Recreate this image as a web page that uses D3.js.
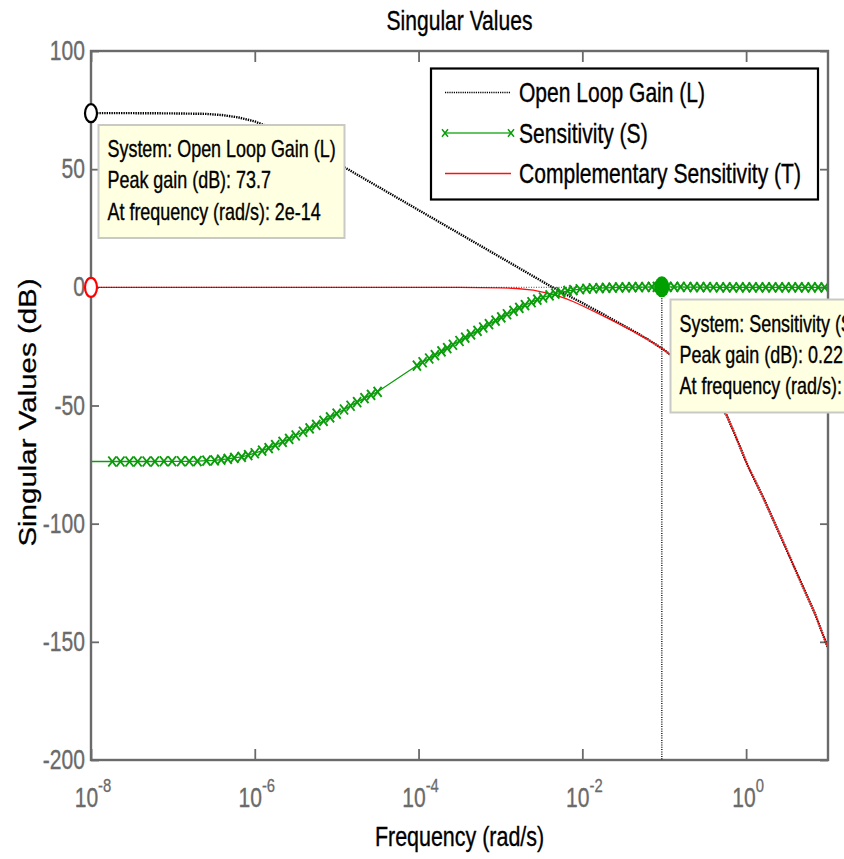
<!DOCTYPE html>
<html>
<head>
<meta charset="utf-8">
<script src="https://cdn.jsdelivr.net/npm/d3@7"></script>
<style>
  html, body { margin: 0; padding: 0; background: #fff; overflow: hidden; }
  svg { display: block; }
  text { font-family: "Liberation Sans", Arial, Helvetica, sans-serif; }
</style>
</head>
<body>
<svg id="chart" width="844" height="859"></svg>
<script>
// ---- Sensitivity (S): sample frequencies as log10(rad/s) and gains in dB ----
const sensExp = [
  -13.70,
  -7.74, -7.64, -7.53, -7.43, -7.32, -7.22, -7.11, -7.01, -6.90, -6.80, -6.70, -6.59, -6.49,
  -6.41, -6.33, -6.25, -6.16, -6.08, -6.00, -5.91, -5.83, -5.75, -5.66, -5.58, -5.50,
  -5.41, -5.33, -5.25, -5.16, -5.08, -5.00, -4.91, -4.83, -4.75, -4.66, -4.58, -4.50,
  -4.02, -3.95, -3.87, -3.80, -3.72, -3.65, -3.58, -3.50, -3.43, -3.36, -3.28, -3.21,
  -3.14, -3.06, -2.99, -2.92, -2.84, -2.77, -2.70, -2.62, -2.55, -2.48, -2.40, -2.33,
  -2.26, -2.18, -2.11,
  -2.03, -1.95, -1.87, -1.79, -1.71, -1.63, -1.55, -1.47, -1.39, -1.31, -1.23, -1.15,
  -1.09, -1.03, -0.96, -0.88, -0.80, -0.72, -0.64, -0.56, -0.48, -0.40, -0.32, -0.24,
  -0.16, -0.08, 0.00, 0.08, 0.16, 0.24, 0.32, 0.40, 0.48, 0.56, 0.64, 0.72, 0.80, 0.88,
  0.96, 1.04
];
const sensDb = [
  -73.7,
  -73.7, -73.7, -73.7, -73.7, -73.7, -73.7, -73.6, -73.6, -73.6, -73.6, -73.5, -73.3, -73.2,
  -72.9, -72.6, -72.2, -71.7, -71.0, -70.2, -69.1, -68.0, -66.8, -65.4, -64.1, -62.7,
  -61.1, -59.7, -58.2, -56.5, -55.0, -53.4, -51.7, -50.1, -48.6, -46.9, -45.5, -44.2,
  -33.1, -31.7, -30.1, -28.7, -27.1, -25.7, -24.3, -22.7, -21.3, -19.9, -18.4, -17.0,
  -15.6, -14.1, -12.7, -11.4, -10.0, -8.7, -7.5, -6.3, -5.2, -4.3, -3.4, -2.7,
  -2.1, -1.5, -1.2,
  -0.8, -0.6, -0.4, -0.3, -0.2, -0.1, -0.05, 0.0, 0.05, 0.09, 0.13, 0.17,
  0.20, 0.221, 0.21, 0.19, 0.16, 0.13, 0.10, 0.07, 0.05, 0.03, 0.02, 0.01,
  0.0, 0.0, 0.0, 0.0, 0.0, 0.0, 0.0, 0.0, 0.0, 0.0, 0.0, 0.0, 0.0, 0.0,
  0.0, 0.0
];

// ---- Open loop gain (L) and complementary sensitivity (T) ----
const loopExp = [
  -13.70, -8.00, -7.50, -7.00, -6.60, -6.40, -6.20, -6.00, -5.80, -5.60, -5.40, -5.20,
  -5.00, -4.50, -4.00, -3.50, -3.00, -2.80, -2.60, -2.50, -2.40, -2.30, -2.20, -2.10,
  -2.00, -1.90, -1.80, -1.60, -1.40, -1.20, -1.00, -0.80, -0.60, -0.40, -0.24, -0.14,
  0.02, 0.21, 0.43, 0.64, 0.84, 1.00, 1.04
];
const loopDb = [
  73.7, 73.7, 73.7, 73.6, 73.4, 72.9, 71.9, 70.2, 67.5, 64.2, 60.5, 56.6,
  52.7, 42.7, 32.7, 22.7, 12.7, 8.7, 4.7, 2.7, 0.7, -1.1, -3.0, -4.8,
  -6.6, -8.5, -10.3, -14.2, -18.0, -22.0, -26.5, -32.0, -39.0, -47.0, -54.0, -62.0,
  -75.5, -89.0, -106.0, -122.5, -138.0, -152.6, -156.0
];
const compDb = [
  0, 0, 0, 0, 0, 0, 0, 0, 0, 0, 0, 0,
  0, 0, 0, 0, -0.2, -0.5, -1.2, -1.9, -2.7, -3.6, -4.8, -6.2,
  -7.8, -9.5, -11.1, -14.6, -18.2, -22.1, -26.5, -32.0, -39.0, -47.0, -54.0, -62.0,
  -75.5, -89.0, -106.0, -122.5, -138.0, -152.6, -156.0
];

// ---- Peak data tips: L, S, T ----
const peakSystem = ["Open Loop Gain (L)", "Sensitivity (S)", "Complementary Sensitivity (T)"];
const peakGainDb = [73.7, 0.221, 0];
const peakFreq = [2e-14, 0.0935, 2e-14];

// ---- Axis ticks and labels ----
const yTicks = [100, 50, 0, -50, -100, -150, -200];
const xTickExp = [-8, -6, -4, -2, 0];
const legendNames = ["Open Loop Gain (L)", "Sensitivity (S)", "Complementary Sensitivity (T)"];

// ---------------------------------------------------------------------------
const SX = 0.78;                       // horizontal squeeze applied to every text
const AXIS = "#6a6a6a";
const GREEN = "#0a9c0a";
const RED = "#ff1010";
const box = { left: 91, right: 828, top: 51, bottom: 760 };

const svg = d3.select("#chart");
const x = d3.scaleLog().domain([1e-8, 10]).range([box.left, box.right]);
const y = d3.scaleLinear().domain([-200, 100]).range([box.bottom, box.top]);

function squeezed(parent, str, px, py, size, anchor, fill) {
  const c = fill || "#000";
  return parent.append("text")
    .attr("transform", `translate(${px},${py}) scale(${SX},1)`)
    .attr("font-size", size)
    .attr("text-anchor", anchor || "start")
    .attr("fill", c).attr("stroke", c).attr("stroke-width", 0.35)
    .text(str);
}

const toPts = (exps, vals) => exps.map((e, i) => ({ f: Math.pow(10, e), v: vals[i] }));
const sensPts = toPts(sensExp, sensDb);
const loopPts = toPts(loopExp, loopDb);
const compPts = toPts(loopExp, compDb);

svg.append("defs").append("clipPath").attr("id", "plotClip")
  .append("rect")
  .attr("x", box.left).attr("y", box.top)
  .attr("width", box.right - box.left).attr("height", box.bottom - box.top);

// ---- Tick marks on all four sides (pointing inwards) ----
function tickAxis(axis, tx, ty) {
  const g = svg.append("g").attr("transform", `translate(${tx},${ty})`).call(axis);
  g.select(".domain").remove();
  g.selectAll(".tick line").attr("stroke", AXIS).attr("stroke-width", 1.8);
  g.selectAll(".tick text").remove();
  return g;
}
const xTickVals = xTickExp.map(e => Math.pow(10, e));
tickAxis(d3.axisLeft(y).tickValues(yTicks).tickSizeInner(-8).tickSizeOuter(0), box.left, 0);
tickAxis(d3.axisRight(y).tickValues(yTicks).tickSizeInner(-8).tickSizeOuter(0), box.right, 0);
tickAxis(d3.axisBottom(x).tickValues(xTickVals).tickSizeInner(-11).tickSizeOuter(0), 0, box.bottom);
tickAxis(d3.axisTop(x).tickValues(xTickVals).tickSizeInner(-11).tickSizeOuter(0), 0, box.top);

// ---- Curves ----
const plot = svg.append("g").attr("clip-path", "url(#plotClip)");
const line = d3.line().x(d => x(d.f)).y(d => y(d.v));

plot.append("path").datum(loopPts)
  .attr("d", line).attr("fill", "none")
  .attr("stroke", "#000").attr("stroke-width", 2.4).attr("stroke-dasharray", "1.4,1");

plot.append("path").datum(compPts)
  .attr("d", line).attr("fill", "none")
  .attr("stroke", RED).attr("stroke-width", 1.3);

// 0 dB reference
plot.append("line")
  .attr("x1", box.left).attr("x2", box.right)
  .attr("y1", y(0)).attr("y2", y(0))
  .attr("stroke", "#111").attr("stroke-width", 1.2).attr("stroke-dasharray", "1,1.5").attr("opacity", 0.6);

plot.append("path").datum(sensPts)
  .attr("d", line).attr("fill", "none")
  .attr("stroke", GREEN).attr("stroke-width", 1.3);

const xMark = "M-4,-5L4,5M-4,5L4,-5";
plot.append("g").selectAll("path").data(sensPts).join("path")
  .attr("transform", d => `translate(${x(d.f)},${y(d.v)})`)
  .attr("d", xMark).attr("fill", "none")
  .attr("stroke", GREEN).attr("stroke-width", 1.9);

// ---- Frame ----
svg.append("rect")
  .attr("x", box.left).attr("y", box.top)
  .attr("width", box.right - box.left).attr("height", box.bottom - box.top)
  .attr("fill", "none").attr("stroke", AXIS).attr("stroke-width", 2.4);

// ---- Tick labels ----
yTicks.forEach(v => {
  squeezed(svg, String(v), box.left - 6, y(v) + 9, 27, "end", AXIS);
});
xTickExp.forEach(e => {
  const g = svg.append("g");
  const base = g.append("text").attr("font-size", 27).attr("fill", AXIS)
    .attr("stroke", AXIS).attr("stroke-width", 0.35).text("10");
  const sup = g.append("text").attr("font-size", 19).attr("fill", AXIS)
    .attr("stroke", AXIS).attr("stroke-width", 0.3).text(String(e));
  const wb = base.node().getComputedTextLength();
  const ws = sup.node().getComputedTextLength();
  sup.attr("x", wb).attr("y", -15);
  const total = (wb + ws) * SX;
  g.attr("transform", `translate(${x(Math.pow(10, e)) - total / 2 + 2},${box.bottom + 47}) scale(${SX},1)`);
});

// ---- Titles ----
const midX = (box.left + box.right) / 2;
squeezed(svg, "Singular Values", midX, 30, 27, "middle", "#000");
squeezed(svg, "Frequency (rad/s)", midX, 846, 27.5, "middle", "#000");
svg.append("text")
  .attr("transform", `translate(36,${(box.top + box.bottom) / 2 + 7}) scale(${SX},1) rotate(-90)`)
  .attr("font-size", 29.5).attr("text-anchor", "middle").attr("fill", "#000")
  .attr("stroke", "#000").attr("stroke-width", 0.35)
  .text("Singular Values (dB)");

// ---- Data tips ----
const clampF = f => Math.max(x.domain()[0], Math.min(x.domain()[1], f));

// stem from the S peak down to the frequency axis
svg.append("line")
  .attr("x1", x(peakFreq[1])).attr("x2", x(peakFreq[1]))
  .attr("y1", y(peakGainDb[1])).attr("y2", box.bottom)
  .attr("stroke", "#000").attr("stroke-width", 1.3).attr("stroke-dasharray", "1,1.3");

svg.append("ellipse")
  .attr("cx", x(clampF(peakFreq[0]))).attr("cy", y(peakGainDb[0]))
  .attr("rx", 6).attr("ry", 9)
  .attr("fill", "#fff").attr("stroke", "#000").attr("stroke-width", 2.2);
svg.append("ellipse")
  .attr("cx", x(clampF(peakFreq[2]))).attr("cy", y(peakGainDb[2]))
  .attr("rx", 6).attr("ry", 9.5)
  .attr("fill", "#fff").attr("stroke", "#ff0000").attr("stroke-width", 2.2);
svg.append("ellipse")
  .attr("cx", x(peakFreq[1])).attr("cy", y(peakGainDb[1]))
  .attr("rx", 7.5).attr("ry", 10.5)
  .attr("fill", "#00a000");

function dataTip(bx, by, lines) {
  const g = svg.append("g");
  g.append("rect").attr("x", bx).attr("y", by).attr("width", 246).attr("height", 113)
    .attr("fill", "#ffffe1").attr("stroke", "#c9c9c6").attr("stroke-width", 2);
  lines.forEach((s, i) => squeezed(g, s, bx + 9, by + 32 + i * 31.3, 23, "start", "#000"));
}
dataTip(98.5, 125, [
  `System: ${peakSystem[0]}`,
  `Peak gain (dB): ${peakGainDb[0]}`,
  `At frequency (rad/s): ${peakFreq[0]}`
]);
dataTip(670.5, 299.5, [
  `System: ${peakSystem[1]}`,
  `Peak gain (dB): ${peakGainDb[1]}`,
  `At frequency (rad/s): ${peakFreq[1]}`
]);

// ---- Legend ----
const lg = svg.append("g");
lg.append("rect").attr("x", 431).attr("y", 68.5).attr("width", 387).attr("height", 131)
  .attr("fill", "#fff").attr("stroke", "#000").attr("stroke-width", 2.2);
const rowY = [92.5, 133, 173.5];
const sampleX = [445, 511];
lg.append("line").attr("x1", sampleX[0]).attr("x2", sampleX[1]).attr("y1", rowY[0]).attr("y2", rowY[0])
  .attr("stroke", "#000").attr("stroke-width", 1.6).attr("stroke-dasharray", "1.2,1");
lg.append("line").attr("x1", sampleX[0]).attr("x2", sampleX[1]).attr("y1", rowY[1]).attr("y2", rowY[1])
  .attr("stroke", "#2fb02f").attr("stroke-width", 1.3);
sampleX.forEach(sx => lg.append("path")
  .attr("transform", `translate(${sx},${rowY[1]}) scale(0.75)`)
  .attr("d", xMark).attr("fill", "none").attr("stroke", GREEN).attr("stroke-width", 2));
lg.append("line").attr("x1", sampleX[0]).attr("x2", sampleX[1]).attr("y1", rowY[2]).attr("y2", rowY[2])
  .attr("stroke", RED).attr("stroke-width", 1.3);
legendNames.forEach((n, i) => squeezed(lg, n, 519, rowY[i] + 9.5, 27, "start", "#000"));
</script>
</body>
</html>
